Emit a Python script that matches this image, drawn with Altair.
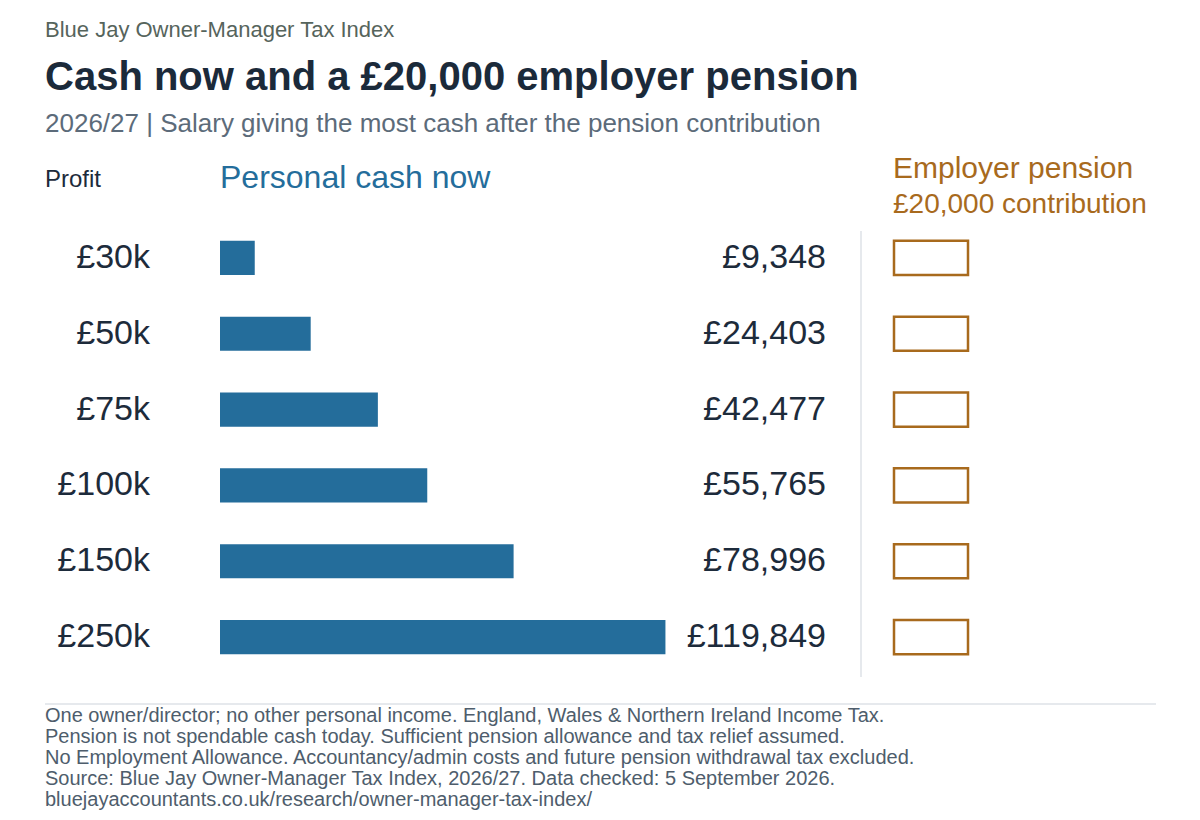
import altair as alt
import pandas as pd

profits = ["£30k", "£50k", "£75k", "£100k", "£150k", "£250k"]
cash_now = [9348, 24403, 42477, 55765, 78996, 119849]
pension = [20000, 20000, 20000, 20000, 20000, 20000]

supertitle = "Blue Jay Owner-Manager Tax Index"
title = "Cash now and a £20,000 employer pension"
subtitle = "2026/27 | Salary giving the most cash after the pension contribution"
col_profit = "Profit"
col_cash = "Personal cash now"
col_pension_1 = "Employer pension"
col_pension_2 = "£20,000 contribution"
footnotes = [
    "One owner/director; no other personal income. England, Wales & Northern Ireland Income Tax.",
    "Pension is not spendable cash today. Sufficient pension allowance and tax relief assumed.",
    "No Employment Allowance. Accountancy/admin costs and future pension withdrawal tax excluded.",
    "Source: Blue Jay Owner-Manager Tax Index, 2026/27. Data checked: 5 September 2026.",
    "bluejayaccountants.co.uk/research/owner-manager-tax-index/",
]

df = pd.DataFrame({
    "profit": profits,
    "cash": cash_now,
    "pension": pension,
    "label": [f"£{v:,}" for v in cash_now],
})

FONT = "Liberation Sans"
BLUE = "#246d9b"
BROWN = "#a86a1d"
DARK = "#1d2b3b"

yenc = alt.Y("profit:N", sort=profits, axis=None,
             scale=alt.Scale(domain=profits, range=[212, 667],
                             paddingInner=0.55, paddingOuter=0.275))

base = alt.Chart(df)

bars = base.mark_bar(color=BLUE).encode(
    x=alt.X("cash:Q", axis=None,
            scale=alt.Scale(domain=[0, 120000], range=[212, 658], nice=False)),
    y=yenc,
)

pens = base.mark_bar(fill="white", stroke=BROWN, strokeWidth=2.5).encode(
    x=alt.X("pension:Q", axis=None,
            scale=alt.Scale(domain=[0, 20000], range=[886, 960], nice=False)),
    y=yenc,
)

profit_lbl = base.mark_text(align="right", baseline="middle", font=FONT,
                            fontSize=34, color=DARK).encode(
    x=alt.value(142), y=yenc, text="profit:N")

value_lbl = base.mark_text(align="right", baseline="middle", font=FONT,
                           fontSize=34, color=DARK).encode(
    x=alt.value(818), y=yenc, text="label:N")


def txt(t, x, y, size, color, weight="normal", lh=None):
    kw = dict(text=t, align="left", baseline="middle", font=FONT,
              fontSize=size, color=color, fontWeight=weight)
    if lh:
        kw["lineHeight"] = lh
    return alt.Chart(alt.Data(values=[{}])).mark_text(**kw).encode(
        x=alt.value(x), y=alt.value(y))


vline = alt.Chart(alt.Data(values=[{}])).mark_rule(
    color="#e6e9ed", strokeWidth=2).encode(
    x=alt.value(853), y=alt.value(223), y2=alt.value(669))
hline = alt.Chart(alt.Data(values=[{}])).mark_rule(
    color="#e6e9ed", strokeWidth=2).encode(
    x=alt.value(37), x2=alt.value(1148), y=alt.value(696))

texts = [
    txt(supertitle, 37, 22, 22, "#56645c"),
    txt(title, 37, 70, 40, "#1b2a3a", "bold"),
    txt(subtitle, 37, 116, 26, "#5c6b7a"),
    txt(col_profit, 37, 172, 24, DARK),
    txt(col_cash, 212, 170, 32, BLUE),
    txt(col_pension_1, 885, 161, 30, BROWN),
    txt(col_pension_2, 885, 197, 28, BROWN),
    txt(footnotes, 37, 708, 20, "#4e5d6c", lh=21),
]

chart = alt.layer(bars, pens, profit_lbl, value_lbl, vline, hline, *texts).resolve_scale(
    x="independent").properties(
    width=1184, height=804, padding=0, autosize=alt.AutoSizeParams(type="none")
).configure_view(stroke=None)

chart.save("out.html", embed_options={"renderer": "svg", "actions": False})
